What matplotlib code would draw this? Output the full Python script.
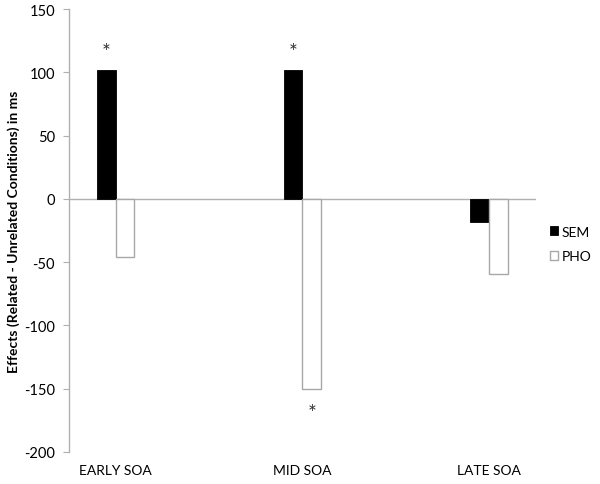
import matplotlib
matplotlib.use("Agg")
import matplotlib.pyplot as plt
import numpy as np

plt.rcParams['font.family'] = ['Lato', 'DejaVu Sans']

categories = ["EARLY SOA", "MID SOA", "LATE SOA"]
sem = [102, 102, -18]
pho = [-46, -150, -59]
yticks = [150, 100, 50, 0, -50, -100, -150, -200]
# significance markers: (category index, series offset sign, y value)
stars = [(0, -1, 116), (1, -1, 116), (1, 1, -169)]

fig = plt.figure(figsize=(6.0, 4.85), dpi=100)
ax = fig.add_axes([0.115, 0.066, 0.778, 0.913])

x = np.arange(len(categories))
w = 0.1
ax.bar(x - w/2, sem, width=w, color='black', edgecolor='black', linewidth=0.6, label='SEM', zorder=3)
ax.bar(x + w/2, pho, width=w, color='white', edgecolor='#a8a8a8', linewidth=1.0, label='PHO', zorder=3)

for ci, s, yv in stars:
    ax.text(ci + s * w/2, yv, '*', ha='center', va='center', fontsize=15, color='#333333')

ax.axhline(0, color='#b0b0b0', linewidth=1.0, zorder=2)
ax.set_xlim(-0.25, 2.25)
ax.set_ylim(-200, 150)
ax.set_yticks(yticks)
ax.set_yticklabels([str(v) for v in yticks], fontsize=10.5)
ax.set_xticks(x)
ax.set_xticklabels(categories, fontsize=10)
ax.tick_params(axis='x', length=0, pad=9)
ax.tick_params(axis='y', length=4, color='#b0b0b0', direction='out', pad=6)

for sp in ['top', 'right', 'bottom']:
    ax.spines[sp].set_visible(False)
ax.spines['left'].set_color('#b0b0b0')
ax.spines['left'].set_linewidth(1.0)

ax.set_ylabel('Effects (Related - Unrelated Conditions) in ms', fontsize=10, fontweight='bold', labelpad=3)

leg = ax.legend(loc='center left', bbox_to_anchor=(1.03, 0.47), frameon=False, fontsize=10,
                handlelength=0.6, handleheight=0.6, handletextpad=0.25, labelspacing=0.9,
                borderpad=0, borderaxespad=0)

fig.savefig('out.png', dpi=100)
